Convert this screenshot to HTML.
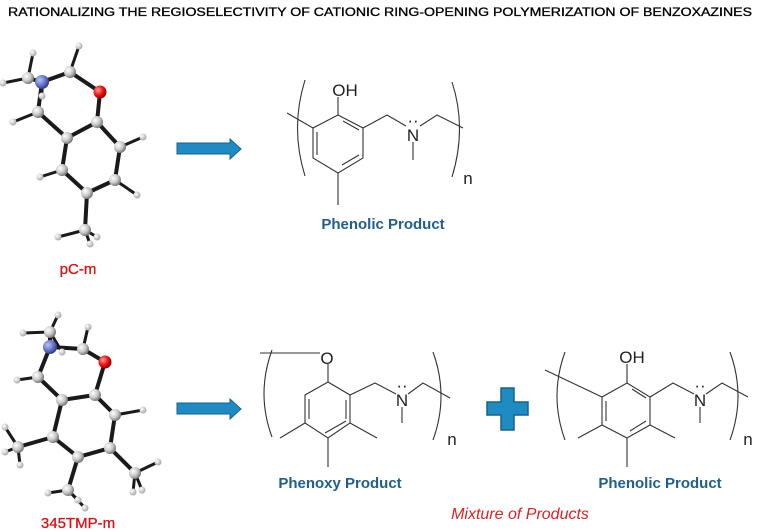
<!DOCTYPE html>
<html><head><meta charset="utf-8"><style>
html,body{margin:0;padding:0;background:#fff;width:757px;height:531px;overflow:hidden}
svg{display:block}
.t{font-family:"Liberation Sans",sans-serif}
.lbl{font-family:"Liberation Sans",sans-serif;font-weight:bold;fill:#1f5f8e;font-size:15px}
.ch{font-family:"Liberation Sans",sans-serif;fill:#222;font-size:17px}
</style></head><body>
<svg width="757" height="531" viewBox="0 0 757 531" xmlns="http://www.w3.org/2000/svg">
<defs>
<radialGradient id="gc" cx="35%" cy="35%" r="65%"><stop offset="0" stop-color="#fff"/><stop offset="0.6" stop-color="#c8c8c8"/><stop offset="1" stop-color="#7a7a7a"/></radialGradient>
<radialGradient id="gn" cx="35%" cy="35%" r="65%"><stop offset="0" stop-color="#b8c4f0"/><stop offset="0.6" stop-color="#6677cc"/><stop offset="1" stop-color="#34408a"/></radialGradient>
<radialGradient id="go" cx="35%" cy="35%" r="65%"><stop offset="0" stop-color="#ff9a9a"/><stop offset="0.6" stop-color="#ee1111"/><stop offset="1" stop-color="#990000"/></radialGradient>
<radialGradient id="gh" cx="35%" cy="35%" r="65%"><stop offset="0" stop-color="#fff"/><stop offset="1" stop-color="#aaa"/></radialGradient>
</defs>
<text x="8" y="16" class="t" font-size="11.5" textLength="744" lengthAdjust="spacingAndGlyphs" stroke="#000" stroke-width="0.3">RATIONALIZING  THE REGIOSELECTIVITY  OF  CATIONIC RING-OPENING  POLYMERIZATION  OF  BENZOXAZINES</text>

<!-- pC-m molecule -->
<g stroke="#1a1a1a" stroke-width="4" stroke-linecap="round" fill="none">
<path d="M42 82L70 72L100 92L97 122L67 138L38 112L42 82M28 78L42 82M67 138L62 170L87 193L115 180L120 147L97 122M87 193L85 230"/>
<path d="M70 72L79 46M28 78L3 83M28 78L33 53M42 82L42 95M38 112L13 122M120 147L143 137M115 180L137 195M62 170L40 177M85 230L58 237M85 230L97 237M85 230L90 244" stroke-width="3"/>
</g>
<g fill="url(#gh)">
<circle cx="79" cy="46" r="3.5"/><circle cx="3" cy="83" r="3.5"/><circle cx="33" cy="53" r="3.5"/><circle cx="42" cy="96" r="3.5"/><circle cx="13" cy="122" r="3.5"/><circle cx="143" cy="137" r="3.5"/><circle cx="137" cy="195" r="3.5"/><circle cx="40" cy="177" r="3.5"/><circle cx="58" cy="237" r="3.5"/><circle cx="97" cy="237" r="3.5"/><circle cx="90" cy="244" r="3.5"/>
</g>
<g fill="url(#gc)">
<circle cx="70" cy="72" r="6"/><circle cx="28" cy="78" r="6"/><circle cx="97" cy="122" r="6"/><circle cx="67" cy="138" r="6"/><circle cx="38" cy="112" r="6"/><circle cx="62" cy="170" r="6"/><circle cx="87" cy="193" r="6"/><circle cx="115" cy="180" r="6"/><circle cx="120" cy="147" r="6"/><circle cx="85" cy="230" r="6"/>
</g>
<circle cx="42" cy="82" r="7" fill="url(#gn)"/><circle cx="100" cy="92" r="6.5" fill="url(#go)"/>
<text x="78" y="274" class="t" font-size="15" fill="#dd1111" text-anchor="middle" stroke="#dd1111" stroke-width="0.3">pC-m</text>

<!-- 345TMP-m molecule -->
<g stroke="#1a1a1a" stroke-width="4" stroke-linecap="round" fill="none">
<path d="M50 347L83 349L105 362L95 395L62 400L38 377L50 347M50 332L50 347M62 400L53 437L78 457L110 448L115 415L95 395M53 437L18 447M78 457L68 490M110 448L135 473"/>
<path d="M50 332L58 315M50 332L23 333M50 332L62 352M83 349L88 327M38 377L17 380M115 415L143 410M18 447L5 427M18 447L5 452M18 447L20 465M68 490L48 493M68 490L85 508M68 490L78 500M135 473L158 462M135 473L133 492M135 473L142 490" stroke-width="3"/>
</g>
<g fill="url(#gh)">
<circle cx="58" cy="315" r="3.5"/><circle cx="23" cy="333" r="3.5"/><circle cx="62" cy="352" r="3.5"/><circle cx="88" cy="327" r="3.5"/><circle cx="17" cy="380" r="3.5"/><circle cx="143" cy="410" r="3.5"/><circle cx="5" cy="427" r="3.5"/><circle cx="5" cy="452" r="3.5"/><circle cx="20" cy="465" r="3.5"/><circle cx="48" cy="493" r="3.5"/><circle cx="85" cy="508" r="3.5"/><circle cx="78" cy="500" r="3.5"/><circle cx="158" cy="462" r="3.5"/><circle cx="133" cy="492" r="3.5"/><circle cx="142" cy="490" r="3.5"/>
</g>
<g fill="url(#gc)">
<circle cx="50" cy="332" r="6"/><circle cx="83" cy="349" r="6"/><circle cx="95" cy="395" r="6"/><circle cx="62" cy="400" r="6"/><circle cx="38" cy="377" r="6"/><circle cx="53" cy="437" r="6"/><circle cx="78" cy="457" r="6"/><circle cx="110" cy="448" r="6"/><circle cx="115" cy="415" r="6"/><circle cx="18" cy="447" r="6"/><circle cx="68" cy="490" r="6"/><circle cx="135" cy="473" r="6"/>
</g>
<circle cx="50" cy="347" r="7" fill="url(#gn)"/><circle cx="105" cy="362" r="6.5" fill="url(#go)"/>
<text x="78" y="528" class="t" font-size="15" fill="#dd1111" text-anchor="middle" stroke="#dd1111" stroke-width="0.3">345TMP-m</text>

<!-- arrows -->
<g fill="#1e8bc3" stroke="#15628f" stroke-width="1">
<path d="M177 143H230V139L241 149L230 159V154H177Z"/>
<path d="M177 403H230V399L241 409L230 419V414H177Z"/>
<path d="M501 388H514V402H528V415H514V430H501V415H487V402H501Z" stroke-width="1.5"/>
</g>

<!-- top phenolic -->
<g stroke="#333" stroke-width="1.1" fill="none">
<path d="M338 115L363 128L363 158L338 173L313 158L313 128Z"/>
<path d="M343 121L359 130M359 155L342 165M317 132L317 155"/>
<path d="M338 115L338 97M363 128L387 115L406 126M420 126L437 115L463 128M413 142L413 160M313 128L287 113M338 173L338 205"/>
<path d="M305 80Q290 128 305 176M452 82Q467 128 452 177"/>
</g>
<text x="345" y="96" class="ch" text-anchor="middle">OH</text>
<text x="413" y="141" class="ch" text-anchor="middle">N</text>
<text x="413" y="126" class="ch" text-anchor="middle" font-size="14">··</text>
<text x="468" y="184" class="ch" text-anchor="middle">n</text>
<text x="383" y="229" class="lbl" text-anchor="middle">Phenolic Product</text>

<!-- bottom phenoxy -->
<g stroke="#333" stroke-width="1.1" fill="none">
<path d="M328 382L350 395L350 423L328 438L305 423L305 395Z"/>
<path d="M346 400L346 419M325 433L346 421M309 399L309 419"/>
<path d="M260 353H320M328 382L328 364M350 395L375 383L396 394M408 394L423 383L450 398M402 407L402 423M305 423L280 438M328 438L328 467M350 423L377 438"/>
<path d="M272 350Q256 394 272 437M433 352Q449 396 433 440"/>
</g>
<text x="327" y="364" class="ch" text-anchor="middle">O</text>
<text x="402" y="406" class="ch" text-anchor="middle">N</text>
<text x="402" y="391" class="ch" text-anchor="middle" font-size="14">··</text>
<text x="452" y="445" class="ch" text-anchor="middle">n</text>
<text x="340" y="488" class="lbl" text-anchor="middle">Phenoxy Product</text>

<!-- bottom phenolic -->
<g stroke="#333" stroke-width="1.1" fill="none">
<path d="M627 383L650 397L650 425L627 438L602 425L602 397Z"/>
<path d="M632 389L646 398M646 421L630 431M606 401L606 421"/>
<path d="M627 383L627 364M602 397L545 370M650 397L673 383L694 394M706 394L722 383L748 397M700 407L700 423M602 425L578 438M627 438L627 467M650 425L675 438"/>
<path d="M565 352Q549 396 565 440M730 352Q746 396 730 440"/>
</g>
<text x="632" y="363" class="ch" text-anchor="middle">OH</text>
<text x="700" y="406" class="ch" text-anchor="middle">N</text>
<text x="700" y="391" class="ch" text-anchor="middle" font-size="14">··</text>
<text x="748" y="445" class="ch" text-anchor="middle">n</text>
<text x="660" y="488" class="lbl" text-anchor="middle">Phenolic Product</text>

<text x="520" y="519" class="t" font-size="16" font-style="italic" fill="#dd2222" text-anchor="middle">Mixture of Products</text>
</svg>
</body></html>
